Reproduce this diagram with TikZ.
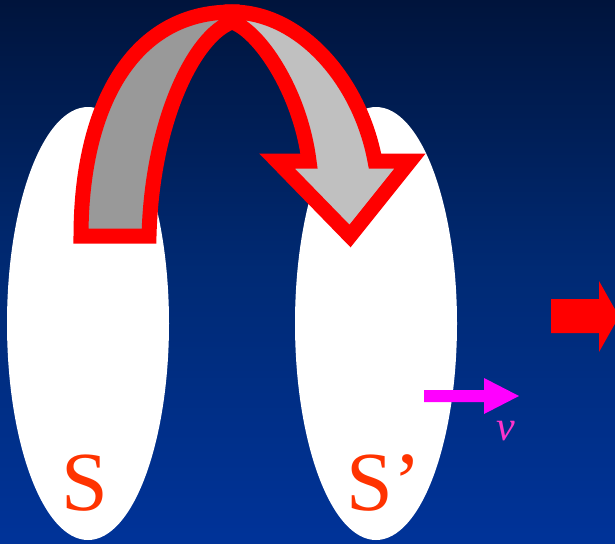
\documentclass[tikz,border=0pt]{standalone}
\usepackage{fontspec}
\setmainfont{Liberation Serif}
\usetikzlibrary{shapes.geometric}
\definecolor{bgtop}{HTML}{00143C}
\definecolor{bgmid}{HTML}{002A74}
\definecolor{bgbot}{HTML}{003399}
\definecolor{lblred}{HTML}{FF3300}
\definecolor{vpink}{HTML}{FF33CC}
\definecolor{vmag}{HTML}{FF00FF}
\definecolor{bandlight}{HTML}{C0C0C0}
\definecolor{banddark}{HTML}{999999}
\tikzset{
  framebox/.style={ellipse, fill=white, minimum width=162pt, minimum height=433pt, inner sep=0pt},
  biglabel/.style={anchor=base, text=lblred, font=\fontsize{84}{90}\selectfont, inner sep=0pt},
  bandline/.style={draw=red, line width=15pt, line join=miter, miter limit=10},
}
\begin{document}
\begin{tikzpicture}[x=1pt,y=-1pt]
\useasboundingbox (0,0) rectangle (615,543);
\clip (0,0) rectangle (615,543);
% background
\shade[top color=bgtop, bottom color=bgbot, middle color=bgmid] (0,0) rectangle (615,543);
% frames
\node[framebox] (frameS) at (88,323.5) {};
\node[framebox] (frameSp) at (376,323.5) {};
% curved arrow
\fill[banddark] (81,236) -- (149,236) .. controls (152,120) and (195,35) .. (232,22) -- (232,12) .. controls (130,12) and (81,110) .. (81,236) -- cycle;
\fill[bandlight] (232,22) .. controls (258,30) and (300,90) .. (309,161) -- (277,161) -- (350,236) -- (410,161) -- (375,161) .. controls (360,80) and (300,12) .. (232,12) -- cycle;
\draw[bandline] (81,236) -- (149,236) .. controls (152,120) and (195,35) .. (232,22) -- (232,12) .. controls (130,12) and (81,110) .. (81,236) -- cycle;
\draw[bandline] (232,22) .. controls (258,30) and (300,90) .. (309,161) -- (277,161) -- (350,236) -- (410,161) -- (375,161) .. controls (360,80) and (300,12) .. (232,12) -- cycle;
% red block arrow
\fill[red] (551,299) -- (599,299) -- (599,281) -- (619,316.5) -- (599,352) -- (599,333) -- (551,333) -- cycle;
% velocity arrow
\fill[vmag] (424,390) -- (484,390) -- (484,378) -- (519,396) -- (484,414) -- (484,402) -- (424,402) -- cycle;
\node[anchor=base, text=vpink, font=\fontsize{42}{46}\selectfont\itshape, inner sep=0pt] (vlabel) at (506,440) {v};
% labels
\node[biglabel] (labelS) at (85,510) {S};
\node[biglabel] (labelSp) at (384,510) {S’};
\end{tikzpicture}
\end{document}
